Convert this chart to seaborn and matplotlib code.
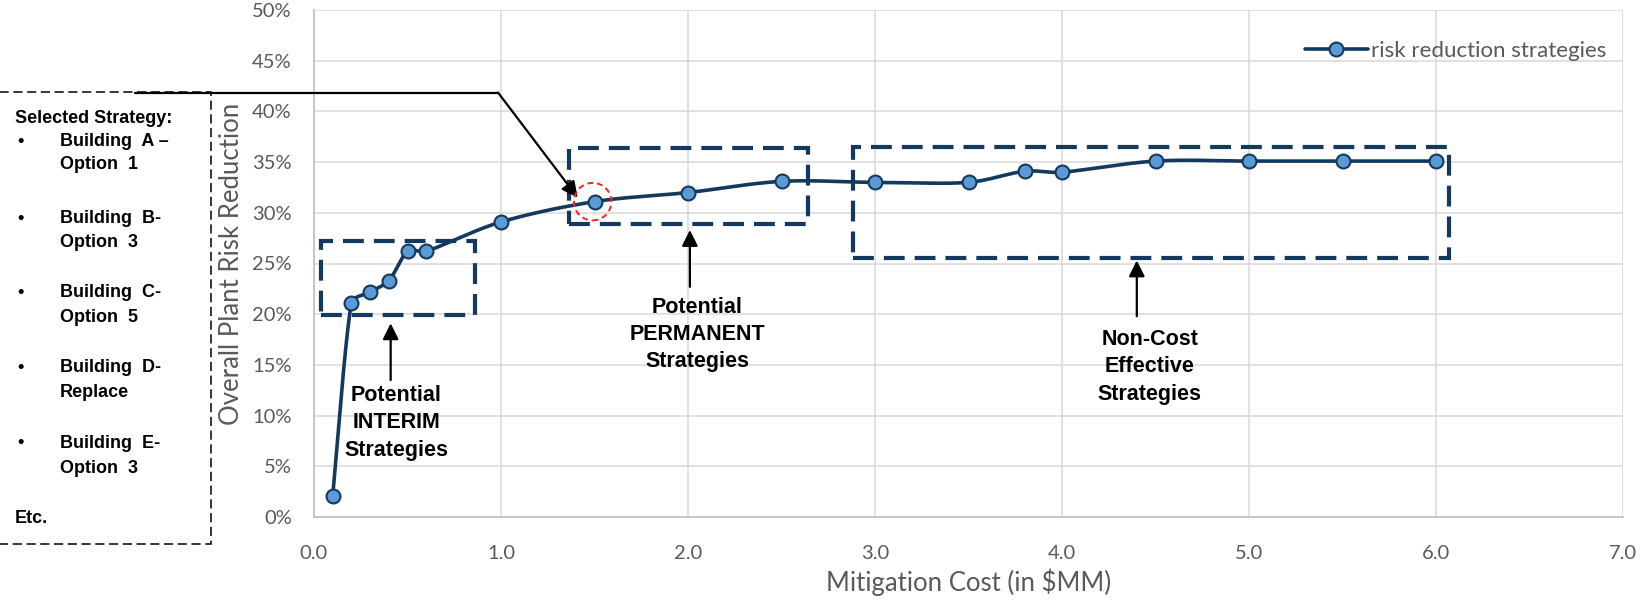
import numpy as np
import pandas as pd
import matplotlib
matplotlib.use("Agg")
import matplotlib.pyplot as plt
import seaborn as sns
from matplotlib.lines import Line2D
from matplotlib.patches import Rectangle, Ellipse
from matplotlib.ticker import FuncFormatter, MultipleLocator

# Mitigation cost ($MM) vs overall plant risk reduction (%)
cost = [0.1, 0.2, 0.3, 0.4, 0.5, 0.6, 1.0, 1.5, 2.0, 2.5, 3.0, 3.5, 3.8, 4.0, 4.5, 5.0, 5.5, 6.0]
reduction = [2.1, 21.1, 22.2, 23.3, 26.2, 26.2, 29.1, 31.1, 32.0, 33.1, 33.0, 33.0, 34.1, 34.0, 35.1, 35.1, 35.1, 35.1]
series_name = "risk reduction strategies"

strategy_lines = ["Building  A –", "Option  1", "Building  B-", "Option  3", "Building  C-",
                  "Option  5", "Building  D-", "Replace", "Building  E-", "Option  3"]

W, H = 1646, 603
NAVY = "#133a5e"
BLUE = "#5b9bd5"
GRAY = "#595959"

sns.set_theme(style="whitegrid")
plt.rcParams["font.family"] = ["Lato", "DejaVu Sans"]

# pixel scale of the plot area, used so smoothing behaves as it does on screen
PX_PER_X = (1623 - 314) / 7.0
PX_PER_Y = (517 - 10) / 50.0


def smooth_curve(xs, ys, steps=40):
    """Cubic Bezier smoothing through every point, with handles kept short
    relative to each segment so steep jumps do not overshoot."""
    p = np.column_stack([np.asarray(xs) * PX_PER_X, np.asarray(ys) * PX_PER_Y]).astype(float)
    ext = np.vstack([p[0], p, p[-1]])
    out = []
    t = np.linspace(0, 1, steps)[:, None]
    for i in range(len(p) - 1):
        p0, p1, p2, p3 = ext[i], ext[i + 1], ext[i + 2], ext[i + 3]
        seg_len = np.linalg.norm(p2 - p1)
        h1 = (p2 - p0) / 6.0
        h2 = (p3 - p1) / 6.0
        lim = seg_len / 3.0
        if np.linalg.norm(h1) > lim:
            h1 = h1 / np.linalg.norm(h1) * lim
        if np.linalg.norm(h2) > lim:
            h2 = h2 / np.linalg.norm(h2) * lim
        b1 = p1 + h1
        b2 = p2 - h2
        seg = ((1 - t) ** 3) * p1 + 3 * ((1 - t) ** 2) * t * b1 + 3 * (1 - t) * t ** 2 * b2 + t ** 3 * p2
        out.append(seg if i == 0 else seg[1:])
    out = np.vstack(out)
    return out[:, 0] / PX_PER_X, out[:, 1] / PX_PER_Y


sx, sy = smooth_curve(cost, reduction)
curve = pd.DataFrame({"cost": sx, "reduction": sy})
points = pd.DataFrame({"cost": cost, "reduction": reduction})

fig = plt.figure(figsize=(W / 100, H / 100), dpi=100)
ax = fig.add_axes([314 / W, 1 - 517 / H, (1623 - 314) / W, (517 - 10) / H])


def fx(px):
    return px / W


def fy(py):
    return 1 - py / H


sns.lineplot(data=curve, x="cost", y="reduction", sort=False, estimator=None,
             color=NAVY, linewidth=2.6, ax=ax, zorder=4)
sns.scatterplot(data=points, x="cost", y="reduction", s=100, color=BLUE,
                edgecolor=NAVY, linewidth=1.5, ax=ax, zorder=5)

ax.set_xlim(0, 7)
ax.set_ylim(0, 50)
ax.xaxis.set_major_locator(MultipleLocator(1))
ax.yaxis.set_major_locator(MultipleLocator(5))
ax.xaxis.set_major_formatter(FuncFormatter(lambda v, _: f"{v:.1f}"))
ax.yaxis.set_major_formatter(FuncFormatter(lambda v, _: f"{v:.0f}%"))
ax.grid(True, color="#d9d9d9", linewidth=1.1)
ax.set_facecolor("white")
for side in ["top", "right"]:
    ax.spines[side].set_visible(False)
for side in ["left", "bottom"]:
    ax.spines[side].set_color("#bfbfbf")
    ax.spines[side].set_linewidth(1.2)
ax.tick_params(axis="both", length=0, labelsize=14.5, colors=GRAY)
ax.tick_params(axis="y", pad=16)
ax.tick_params(axis="x", pad=20)
ax.set_xlabel("Mitigation Cost (in $MM)", fontsize=18.5, color=GRAY, labelpad=5)
ax.set_ylabel("Overall Plant Risk Reduction", fontsize=18.5, color=GRAY, labelpad=6)

# Legend
handle = Line2D([0], [0], color=NAVY, lw=2.6, marker="o", markersize=10,
                markerfacecolor=BLUE, markeredgecolor=NAVY, markeredgewidth=1.5)
leg = ax.legend([handle], [series_name], loc="upper right", bbox_to_anchor=(0.994, 0.957),
                frameon=False, fontsize=16, handlelength=2.8, handletextpad=0.15,
                borderaxespad=0)
for t in leg.get_texts():
    t.set_color(GRAY)

# Dashed strategy groupings
box_style = dict(fill=False, edgecolor=NAVY, linewidth=3.0, linestyle=(0, (5, 2.4)), zorder=3)
ax.add_patch(Rectangle((0.035, 19.9), 0.825, 7.3, **box_style))
ax.add_patch(Rectangle((1.365, 28.85), 1.275, 7.5, **box_style))
ax.add_patch(Rectangle((2.88, 25.55), 3.19, 10.95, **box_style))

# Highlight of the selected strategy
ax.add_patch(Ellipse((1.49, 31.1), 0.2, 3.7, fill=False, edgecolor="#ff2020",
                     linewidth=1.4, linestyle=(0, (3, 2)), zorder=6))

label_font = dict(family=["Liberation Sans", "DejaVu Sans"], fontweight="bold",
                  fontsize=15.5, color="black", ha="center", va="center", linespacing=1.4)
arrow_props = dict(arrowstyle="-|>", color="black", lw=1.6, mutation_scale=24,
                   shrinkA=0, shrinkB=0)

ax.text(0.44, 9.3, "Potential\nINTERIM\nStrategies", **label_font)
ax.annotate("", xy=(0.41, 19.1), xytext=(0.41, 13.5), arrowprops=arrow_props)

ax.text(2.05, 18.0, "Potential\nPERMANENT\nStrategies", **label_font)
ax.annotate("", xy=(2.01, 28.3), xytext=(2.01, 22.7), arrowprops=arrow_props)

ax.text(4.47, 14.8, "Non-Cost\nEffective\nStrategies", **label_font)
ax.annotate("", xy=(4.40, 25.3), xytext=(4.40, 19.8), arrowprops=arrow_props)

# Callout box listing the selected strategy
fig.add_artist(Rectangle((fx(-10), fy(544)), fx(221), fy(92) - fy(544), transform=fig.transFigure,
                         fill=False, edgecolor="black", linewidth=1.1,
                         linestyle=(0, (6, 3)), clip_on=False))
fig.add_artist(Line2D([fx(135), fx(498)], [fy(92.5), fy(92.5)], transform=fig.transFigure,
                      color="black", linewidth=1.6))
ax.annotate("", xy=(1.41, 31.5), xycoords="data", xytext=(fx(498), fy(92.5)),
            textcoords="figure fraction", arrowprops=arrow_props)

box_font = dict(family=["Liberation Sans", "DejaVu Sans"], fontweight="bold",
                fontsize=13, color="black", va="center", ha="left")
fig.text(fx(15), fy(118.6), "Selected Strategy:", **box_font)
line_y = [141.7, 164.8, 218.3, 242.5, 292.9, 317.0, 367.4, 392.6, 443.0, 468.2]
for i, (txt, yy) in enumerate(zip(strategy_lines, line_y)):
    if i % 2 == 0:
        fig.text(fx(17), fy(yy), "•", **box_font)
    fig.text(fx(60), fy(yy), txt, **box_font)
fig.text(fx(15), fy(518.6), "Etc.", **box_font)

fig.savefig("out.png", dpi=100, facecolor="white")
